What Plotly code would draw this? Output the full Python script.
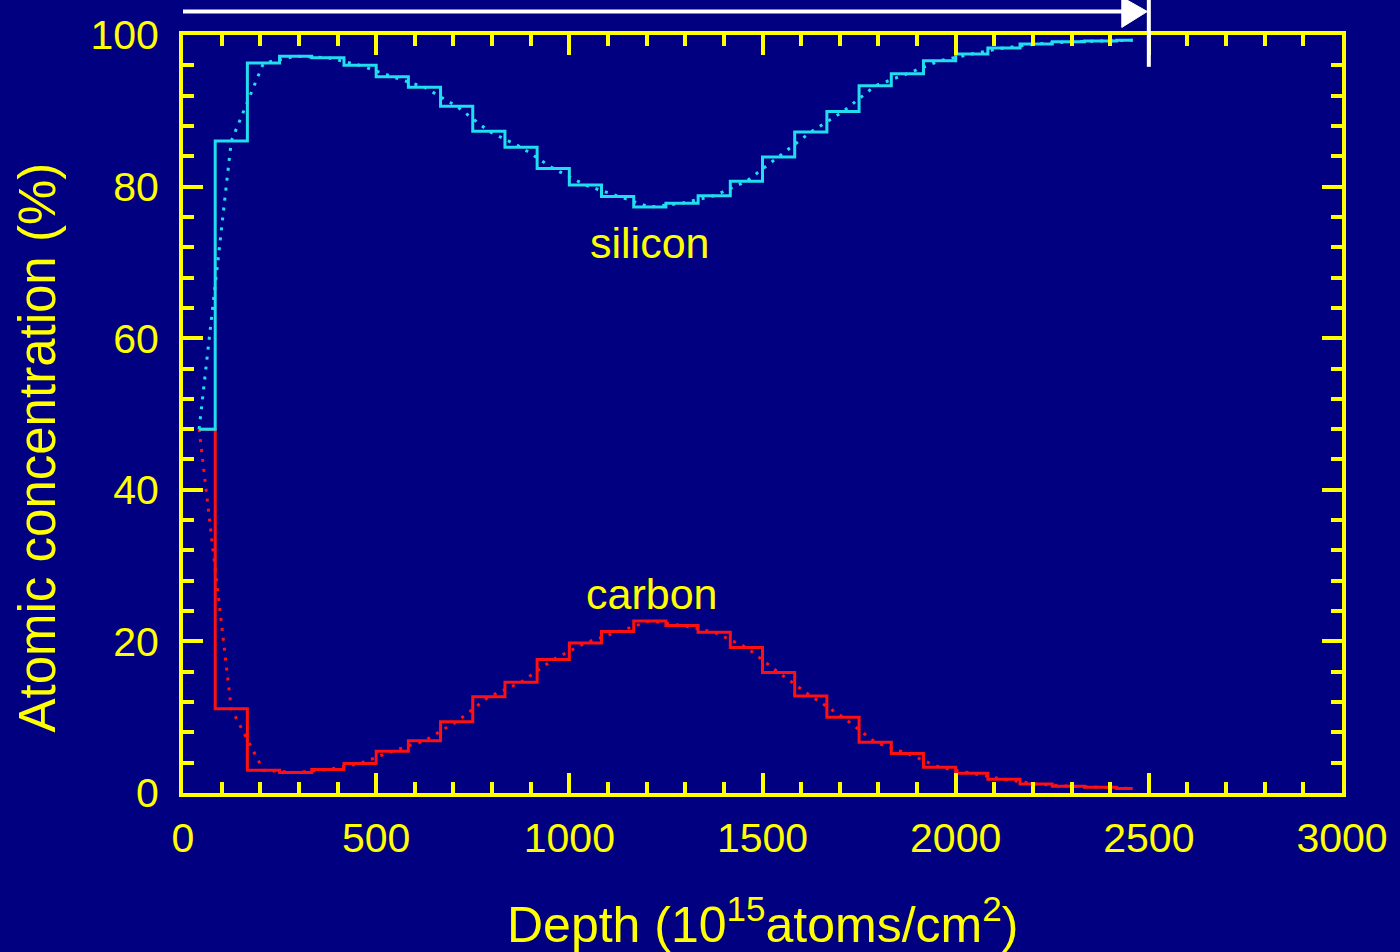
import plotly.graph_objects as go

# Depth bin centres (10^15 atoms/cm^2)
depth = [41.7, 125, 208.3, 291.7, 375, 458.3, 541.7, 625, 708.3, 791.7,
         875, 958.3, 1041.7, 1125, 1208.3, 1291.7, 1375, 1458.3, 1541.7, 1625,
         1708.3, 1791.7, 1875, 1958.3, 2041.7, 2125, 2208.3, 2291.7, 2375, 2458.3]

silicon = [48.0, 86.0, 96.3, 97.2, 97.0, 96.0, 94.5, 93.1, 90.6, 87.3,
           85.2, 82.4, 80.2, 78.7, 77.3, 77.8, 78.8, 80.7, 83.9, 87.2,
           89.9, 93.3, 94.9, 96.6, 97.5, 98.3, 98.8, 99.1, 99.2, 99.3]

carbon = [48.0, 11.1, 3.0, 2.7, 3.1, 3.9, 5.5, 6.9, 9.4, 12.7,
          14.6, 17.6, 19.8, 21.3, 22.7, 22.1, 21.2, 19.2, 15.9, 12.8,
          10.0, 6.7, 5.2, 3.4, 2.6, 1.8, 1.2, 0.9, 0.75, 0.6]

x_ticks = [0, 500, 1000, 1500, 2000, 2500, 3000]
y_ticks = [0, 20, 40, 60, 80, 100]

BG = "#000080"
YEL = "#FFFF00"
CYAN = "#22DDF0"
RED = "#FF1010"
FONT = "Liberation Sans, Arial, sans-serif"

fig = go.Figure()
fig.add_trace(go.Scatter(x=depth, y=silicon, mode="lines",
                         line=dict(color=CYAN, width=3, dash="3px,7px")))
fig.add_trace(go.Scatter(x=depth, y=carbon, mode="lines",
                         line=dict(color=RED, width=3, dash="3px,7px")))
fig.add_trace(go.Scatter(x=depth, y=carbon, mode="lines",
                         line=dict(color=RED, width=3, shape="hvh")))
fig.add_trace(go.Scatter(x=depth, y=silicon, mode="lines",
                         line=dict(color=CYAN, width=3, shape="hvh")))

fig.add_annotation(x=1210, y=72.6, text="silicon", showarrow=False,
                   font=dict(family=FONT, size=43, color=YEL))
fig.add_annotation(x=1213, y=26.3, text="carbon", showarrow=False,
                   font=dict(family=FONT, size=43, color=YEL))

# Axis titles
fig.add_annotation(xref="paper", yref="paper", x=0.5004, y=-0.169,
                   text="Depth (10<sup>15</sup>atoms/cm<sup>2</sup>)", showarrow=False,
                   xanchor="center", yanchor="middle",
                   font=dict(family=FONT, size=50, color=YEL))
fig.add_annotation(xref="paper", yref="paper", x=-0.1253, y=0.4555,
                   text="Atomic concentration (%)", showarrow=False, textangle=-90,
                   xanchor="center", yanchor="middle",
                   font=dict(family=FONT, size=51, color=YEL))

# White range arrow at the top
fig.add_shape(type="line", xref="x", yref="paper", x0=0, x1=2440, y0=1.031, y1=1.031,
              line=dict(color="white", width=4))
fig.add_shape(type="path", xref="x", yref="paper",
              path="M 2430,1.050 L 2496,1.031 L 2430,1.010 Z",
              fillcolor="white", line=dict(color="white", width=1))
fig.add_shape(type="line", xref="x", yref="paper", x0=2500, x1=2500, y0=0.958, y1=1.06,
              line=dict(color="white", width=4))

axis_common = dict(
    showline=True, linecolor=YEL, linewidth=4, mirror="allticks",
    ticks="inside", tickcolor=YEL, tickwidth=4, ticklen=20,
    showgrid=False, zeroline=False,
    tickfont=dict(family=FONT, size=41, color=YEL),
)

fig.update_xaxes(range=[0, 3000], tickvals=x_ticks, ticklabelstandoff=6,
                 minor=dict(dtick=100, ticks="inside", ticklen=11, tickwidth=4,
                            tickcolor=YEL, showgrid=False),
                 **axis_common)
fig.update_yaxes(range=[0, 100], tickvals=y_ticks, ticklabelstandoff=12,
                 minor=dict(dtick=4, ticks="inside", ticklen=11, tickwidth=4,
                            tickcolor=YEL, showgrid=False),
                 **axis_common)

fig.update_layout(
    width=1400, height=952,
    margin=dict(l=183, r=52, t=29, b=159),
    paper_bgcolor=BG, plot_bgcolor=BG,
    showlegend=False,
)

fig.write_html("out.html")
